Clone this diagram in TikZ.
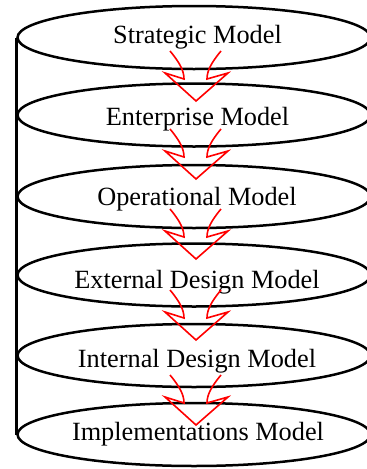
\documentclass[tikz,border=0pt]{standalone}
\usepackage{fontspec}
\setmainfont{Liberation Serif}
\usetikzlibrary{shapes.geometric}
\tikzset{
  layer/.style={ellipse, draw=black, line width=2.5pt, fill=white, minimum width=353pt, minimum height=63pt, inner sep=0pt},
  lbl/.style={anchor=base, inner sep=0pt, font=\fontsize{26.3}{30}\selectfont},
  fatarrow/.style={draw=red, line width=1.6pt, line join=miter}
}
\newcommand{\myarrow}[1]{%
  \draw[fatarrow, shift={(#1)}]
    (-26pt,50pt) .. controls (-16pt,38pt) and (-12pt,30pt) .. (-12pt,22pt)
    -- (-31pt,28pt) -- (0pt,0pt) -- (32pt,28pt) -- (11pt,22pt)
    .. controls (11pt,30pt) and (15pt,38pt) .. (25pt,50pt);
}
\begin{document}
\begin{tikzpicture}[x=1pt,y=1pt]
\useasboundingbox (0,0) rectangle (367,-469);
\node[layer] (e1) at (194,-37.5) {};
\node[layer] (e2) at (194,-115) {};
\node[layer] (e3) at (194,-196.5) {};
\node[layer] (e4) at (194,-275) {};
\node[layer] (e5) at (194,-355.5) {};
\node[layer] (e6) at (194,-434.5) {};
\draw[line width=2.8pt] (e1.west) -- (e6.west);
\node[lbl] (t1) at (197.5,-43) {Strategic Model};
\node[lbl] (t2) at (197.5,-125) {Enterprise Model};
\node[lbl] (t3) at (197,-205) {Operational Model};
\node[lbl] (t4) at (197,-288) {External Design Model};
\node[lbl] (t5) at (197,-367) {Internal Design Model};
\node[lbl] (t6) at (198,-440) {Implementations Model};
\myarrow{196,-101}
\myarrow{196,-179}
\myarrow{196,-259}
\myarrow{196,-340}
\myarrow{196,-425}
\end{tikzpicture}
\end{document}
